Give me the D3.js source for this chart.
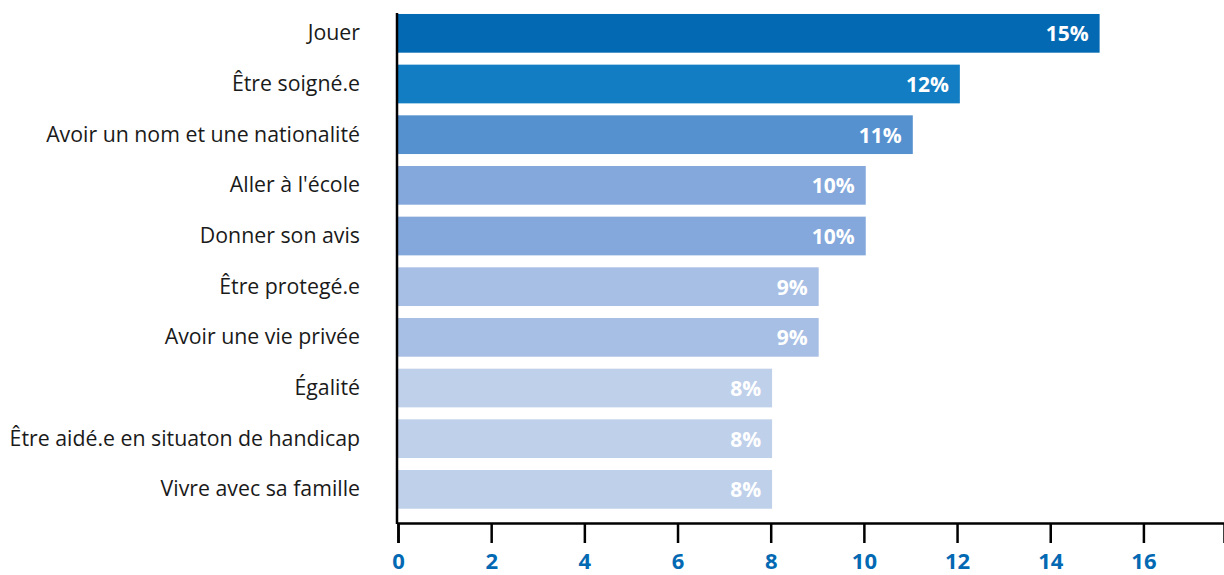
<!DOCTYPE html>
<html>
<head>
<meta charset="utf-8">
<script src="https://cdn.jsdelivr.net/npm/d3@7"></script>
<style>
  body { margin: 0; background: #fff; }
  svg { display: block; }
</style>
</head>
<body>
<div id="chart"></div>
<script>
    // donnees
    var categories = ["Jouer", "Être soigné.e", "Avoir un nom et une nationalité", "Aller à l'école",
        "Donner son avis", "Être protegé.e", "Avoir une vie privée", "Égalité",
        "Être aidé.e en situaton de handicap", "Vivre avec sa famille"];
    var values = [15.06, 12.06, 11.05, 10.04, 10.04, 9.03, 9.03, 8.03, 8.03, 8.03];
    var labels = ["15%", "12%", "11%", "10%", "10%", "9%", "9%", "8%", "8%", "8%"];
    var colors = ["#0369b3", "#127dc2", "#5591cf", "#84a8dc", "#84a8dc", "#a8bfe5", "#a8bfe5",
        "#bfd0eb", "#bfd0eb", "#bfd0eb"];
    var ticks = [0, 2, 4, 6, 8, 10, 12, 14, 16];

    var width = 1224, height = 575;
    var svg = d3.select("#chart").append("svg")
        .attr("width", width)
        .attr("height", height);

    var x = d3.scaleLinear().domain([0, 17.73]).range([398, 1224]);
    var y = d3.scaleBand().domain(categories).range([8, 514.7])
        .paddingInner(0.236).paddingOuter(0.118);

    var data = categories.map(function (c, i) {
        return { cat: c, val: values[i], lab: labels[i], col: colors[i] };
    });

    svg.append("g")
        .selectAll("rect")
        .data(data)
        .enter().append("rect")
        .attr("x", x(0))
        .attr("y", function (d) { return y(d.cat); })
        .attr("width", function (d) { return x(d.val) - x(0); })
        .attr("height", y.bandwidth())
        .attr("fill", function (d) { return d.col; });

    svg.append("g")
        .selectAll("text")
        .data(data)
        .enter().append("text")
        .attr("x", function (d) { return x(d.val) - 11; })
        .attr("y", function (d) { return y(d.cat) + y.bandwidth() / 2; })
        .attr("text-anchor", "end")
        .attr("dominant-baseline", "central")
        .attr("fill", "#fff")
        .style("font-family", "'Open Sans', sans-serif")
        .style("font-weight", "bold")
        .style("font-size", "21px")
        .text(function (d) { return d.lab; });

    // axe des categories
    var yAxis = svg.append("g")
        .attr("transform", "translate(397,0)")
        .call(d3.axisLeft(y).tickSize(0).tickPadding(37));
    yAxis.select(".domain").attr("stroke", "#000").attr("stroke-width", 2.5)
        .attr("d", "M0,13V524");
    yAxis.selectAll("text")
        .style("font-family", "'Open Sans', sans-serif")
        .style("font-size", "21.3px")
        .attr("fill", "#1a1a1a");

    // axe des valeurs
    var xAxis = svg.append("g")
        .attr("transform", "translate(0,523)")
        .call(d3.axisBottom(x).tickValues(ticks).tickSize(20).tickPadding(12));
    xAxis.select(".domain").attr("stroke", "#000").attr("stroke-width", 2.5);
    xAxis.selectAll(".tick line").attr("stroke", "#000").attr("stroke-width", 2.5);
    xAxis.selectAll("text")
        .attr("y", 46)
        .attr("dy", null)
        .style("font-family", "'Open Sans', sans-serif")
        .style("font-weight", "bold")
        .style("font-size", "22px")
        .attr("fill", "#0369b3");
</script>
</body>
</html>
